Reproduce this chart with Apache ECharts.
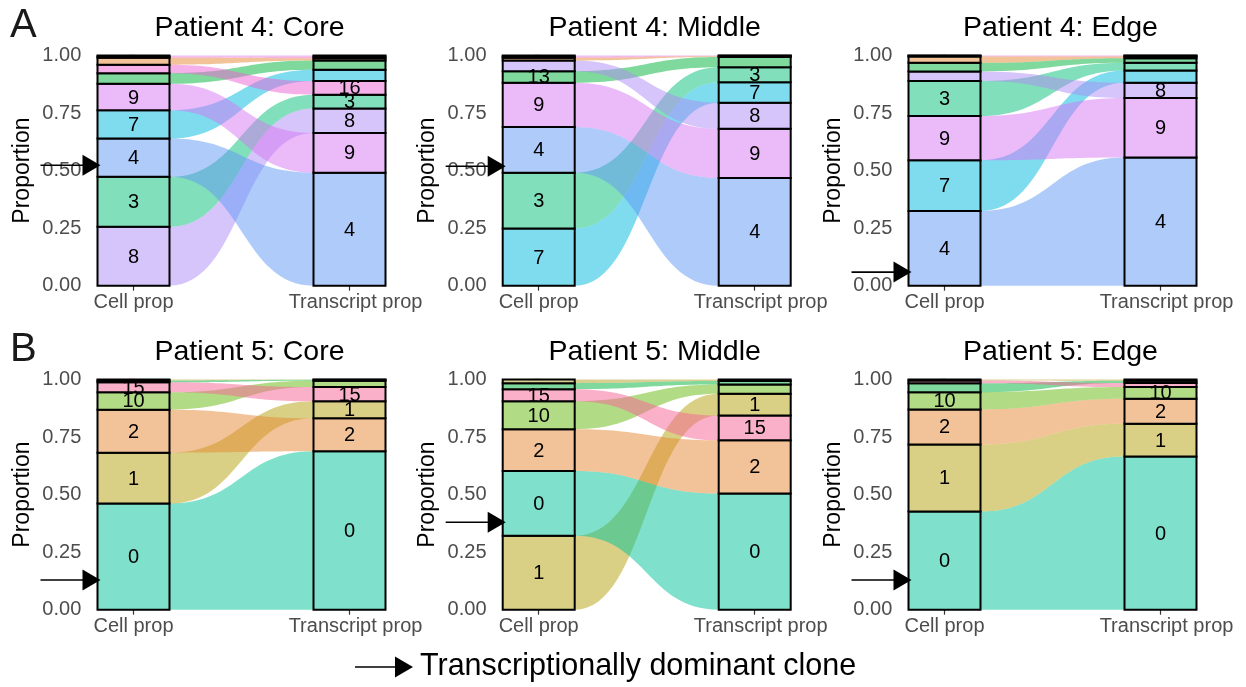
<!DOCTYPE html>
<html>
<head>
<meta charset="utf-8">
<script src="https://cdn.jsdelivr.net/npm/echarts@6/dist/echarts.min.js"></script>
<style>
  html, body { margin: 0; padding: 0; background: #fff; }
  #chart { width: 1246px; height: 687px; }
</style>
</head>
<body>
<div id="chart"></div>
<script>
// ---- Clone identities per patient ----
const clonesP4 = ['4', '3', '8', '7', '9', '13', '16', '2', '6', '11'];
const clonesP5 = ['0', '1', '2', '10', '15', '13', '5'];

// ---- Patient 4: cell and transcript proportions (same order as clonesP4) ----
const p4CoreCell   = [0.166, 0.217, 0.256, 0.123, 0.115, 0.046, 0.037, 0.030, 0.006, 0.004];
const p4CoreTx     = [0.491, 0.060, 0.107, 0.049, 0.172, 0.040, 0.059, 0.010, 0.008, 0.004];
const p4MiddleCell = [0.198, 0.242, 0.046, 0.249, 0.193, 0.050, 0.000, 0.012, 0.006, 0.004];
const p4MiddleTx   = [0.468, 0.065, 0.113, 0.089, 0.214, 0.044, 0.000, 0.004, 0.002, 0.001];
const p4EdgeCell   = [0.325, 0.152, 0.042, 0.220, 0.192, 0.037, 0.000, 0.028, 0.003, 0.001];
const p4EdgeTx     = [0.557, 0.033, 0.067, 0.053, 0.258, 0.020, 0.000, 0.008, 0.003, 0.001];

// ---- Patient 5: cell and transcript proportions (same order as clonesP5) ----
const p5CoreCell   = [0.461, 0.221, 0.187, 0.076, 0.043, 0.008, 0.004];
const p5CoreTx     = [0.688, 0.073, 0.144, 0.028, 0.062, 0.004, 0.001];
const p5MiddleCell = [0.282, 0.321, 0.181, 0.122, 0.052, 0.026, 0.016];
const p5MiddleTx   = [0.505, 0.094, 0.231, 0.040, 0.108, 0.015, 0.007];
const p5EdgeCell   = [0.427, 0.291, 0.152, 0.075, 0.012, 0.039, 0.004];
const p5EdgeTx     = [0.666, 0.142, 0.108, 0.051, 0.018, 0.010, 0.005];

// ---- Clones whose id is printed inside the stratum ----
const labelsP4CoreCell   = ['8', '3', '4', '7', '9'];
const labelsP4CoreTx     = ['4', '9', '8', '3', '16'];
const labelsP4MiddleCell = ['7', '3', '4', '9', '13'];
const labelsP4MiddleTx   = ['4', '9', '8', '7', '3'];
const labelsP4EdgeCell   = ['4', '7', '9', '3'];
const labelsP4EdgeTx     = ['4', '9', '8'];
const labelsP5CoreCell   = ['0', '1', '2', '10', '15'];
const labelsP5CoreTx     = ['0', '2', '1', '15'];
const labelsP5MiddleCell = ['1', '0', '2', '10', '15'];
const labelsP5MiddleTx   = ['0', '2', '15', '1'];
const labelsP5EdgeCell   = ['0', '1', '2', '10'];
const labelsP5EdgeTx     = ['0', '1', '2', '10'];

// ---- Height of the arrow marking the transcriptionally dominant clone ----
const dominantArrowY = [0.523, 0.519, 0.059, 0.129, 0.380, 0.129];

// ---- Titles and axis text ----
const panelTitles = ['Patient 4: Core', 'Patient 4: Middle', 'Patient 4: Edge',
                     'Patient 5: Core', 'Patient 5: Middle', 'Patient 5: Edge'];
const xCategories = ['Cell prop', 'Transcript prop'];

// Clone fill colours (as seen on white)
const cloneColors = {
  '0': '#7FE0CC', '1': '#D9D085', '2': '#F2C398', '3': '#82DFBB',
  '4': '#AFCBFA', '5': '#D8D092', '6': '#F8B2DC', '7': '#7FDBEE',
  '8': '#D6C5FA', '9': '#EABAF9', '10': '#B2DB86', '11': '#E6BEF6',
  '13': '#80D99C', '15': '#FBB0CA', '16': '#F5B0EA'
};

// Semi-transparent flow colour that gives the stratum colour over white
function flowColor(hex) {
  const r = parseInt(hex.slice(1, 3), 16), g = parseInt(hex.slice(3, 5), 16), b = parseInt(hex.slice(5, 7), 16);
  const f = v => Math.max(0, Math.min(255, 2 * v - 255));
  return 'rgba(' + f(r) + ',' + f(g) + ',' + f(b) + ',0.5)';
}

const panels = [
  { clones: clonesP4, cell: p4CoreCell,   tx: p4CoreTx,   lc: labelsP4CoreCell,   lt: labelsP4CoreTx },
  { clones: clonesP4, cell: p4MiddleCell, tx: p4MiddleTx, lc: labelsP4MiddleCell, lt: labelsP4MiddleTx },
  { clones: clonesP4, cell: p4EdgeCell,   tx: p4EdgeTx,   lc: labelsP4EdgeCell,   lt: labelsP4EdgeTx },
  { clones: clonesP5, cell: p5CoreCell,   tx: p5CoreTx,   lc: labelsP5CoreCell,   lt: labelsP5CoreTx },
  { clones: clonesP5, cell: p5MiddleCell, tx: p5MiddleTx, lc: labelsP5MiddleCell, lt: labelsP5MiddleTx },
  { clones: clonesP5, cell: p5EdgeCell,   tx: p5EdgeTx,   lc: labelsP5EdgeCell,   lt: labelsP5EdgeTx }
];

const FONT = '"Liberation Sans", Arial, Helvetica, sans-serif';
const HALF = 1 / 6;          // half width of a stratum, in axis units
const colLeft = [90.3, 495.5, 901.3];
const rowTop = [55.5, 379.5];
const gridW = 302.4, gridH = 230.2;

// Stack a column: largest clone at the bottom
function stackColumn(vals) {
  const idx = vals.map((v, i) => i).filter(i => vals[i] > 0).sort((a, b) => vals[b] - vals[a]);
  const lo = {}, hi = {};
  let acc = 0;
  idx.forEach(i => { lo[i] = acc; acc += vals[i]; hi[i] = acc; });
  return { order: idx, lo, hi };
}

function buildItems(p, k) {
  const L = stackColumn(p.cell), R = stackColumn(p.tx);
  const items = [];
  // flows, one per clone, from its cell stratum to its transcript stratum
  L.order.forEach(i => {
    if (p.tx[i] > 0) items.push({ kind: 'flow', c: p.clones[i], l0: L.lo[i], l1: L.hi[i], r0: R.lo[i], r1: R.hi[i] });
  });
  // strata
  L.order.forEach(i => items.push({ kind: 'rect', x: 0, c: p.clones[i], y0: L.lo[i], y1: L.hi[i] }));
  R.order.forEach(i => items.push({ kind: 'rect', x: 1, c: p.clones[i], y0: R.lo[i], y1: R.hi[i] }));
  // stratum labels
  L.order.forEach(i => { if (p.lc.indexOf(p.clones[i]) >= 0) items.push({ kind: 'label', x: 0, c: p.clones[i], y: (L.lo[i] + L.hi[i]) / 2 }); });
  R.order.forEach(i => { if (p.lt.indexOf(p.clones[i]) >= 0) items.push({ kind: 'label', x: 1, c: p.clones[i], y: (R.lo[i] + R.hi[i]) / 2 }); });
  // dominant-clone arrow
  items.push({ kind: 'arrow', y: dominantArrowY[k] });
  return items;
}

function makeRenderer(items) {
  return function (params, api) {
    const it = items[params.dataIndex];
    if (it.kind === 'flow') {
      const xl = api.coord([HALF, 0])[0], xr = api.coord([1 - HALF, 0])[0];
      const yl0 = api.coord([0, it.l0])[1], yl1 = api.coord([0, it.l1])[1];
      const yr0 = api.coord([0, it.r0])[1], yr1 = api.coord([0, it.r1])[1];
      const xm = (xl + xr) / 2;
      const d = 'M' + xl + ' ' + yl1 + ' C' + xm + ' ' + yl1 + ' ' + xm + ' ' + yr1 + ' ' + xr + ' ' + yr1 +
                ' L' + xr + ' ' + yr0 + ' C' + xm + ' ' + yr0 + ' ' + xm + ' ' + yl0 + ' ' + xl + ' ' + yl0 + ' Z';
      return { type: 'path', shape: { pathData: d }, style: { fill: flowColor(cloneColors[it.c]), stroke: null } };
    }
    if (it.kind === 'rect') {
      const p0 = api.coord([it.x - HALF, it.y1]);
      const p1 = api.coord([it.x + HALF, it.y0]);
      return {
        type: 'rect',
        shape: { x: p0[0], y: p0[1], width: p1[0] - p0[0], height: p1[1] - p0[1] },
        style: { fill: cloneColors[it.c], stroke: '#000', lineWidth: 2 }
      };
    }
    if (it.kind === 'label') {
      const p = api.coord([it.x, it.y]);
      return {
        type: 'text', x: p[0], y: p[1] + 1,
        style: { text: it.c, fill: '#000', fontSize: 20, fontFamily: FONT, align: 'center', verticalAlign: 'middle' }
      };
    }
    // arrow pointing at the cell-proportion stratum
    const tip = api.coord([-HALF, it.y]);
    const tx = tip[0] + 3, ty = tip[1];
    return {
      type: 'group',
      children: [
        { type: 'line', shape: { x1: tx - 60, y1: ty, x2: tx - 14, y2: ty }, style: { stroke: '#000', lineWidth: 1.6 } },
        { type: 'polygon', shape: { points: [[tx - 18, ty - 10.5], [tx, ty], [tx - 18, ty + 10.5]] }, style: { fill: '#000' } }
      ]
    };
  };
}

const grids = [], xAxes = [], yAxes = [], series = [], graphics = [];
panels.forEach((p, k) => {
  const r = Math.floor(k / 3), c = k % 3;
  grids.push({ left: colLeft[c], top: rowTop[r], width: gridW, height: gridH, containLabel: false });
  xAxes.push({
    gridIndex: k, type: 'value', min: -0.2, max: 1.2,
    axisLine: { show: false }, splitLine: { show: false },
    axisTick: { show: true, customValues: [0, 1], length: 5, lineStyle: { color: '#333', width: 1.2 } },
    axisLabel: {
      customValues: [0, 1],
      formatter: v => Math.round(v) === 0 ? '{c|' + xCategories[0] + '}' : '{t|' + xCategories[1] + '}',
      color: '#4D4D4D', margin: 7,
      rich: {
        c: { fontSize: 20, color: '#4D4D4D', fontFamily: FONT },
        t: { fontSize: 20, color: '#4D4D4D', fontFamily: FONT, padding: [0, 0, 0, 12] }
      }
    }
  });
  yAxes.push({
    gridIndex: k, type: 'value', min: 0, max: 1, interval: 0.25,
    axisLine: { show: true, lineStyle: { color: '#000', width: 1.6 } },
    axisTick: { show: true, length: 5, lineStyle: { color: '#333', width: 1.2 } },
    axisLabel: { formatter: v => v.toFixed(2), fontSize: 20, color: '#4D4D4D', fontFamily: FONT, margin: 9 },
    splitLine: { show: false },
    name: 'Proportion', nameLocation: 'middle', nameGap: 56,
    nameTextStyle: { fontSize: 23, color: '#000', fontFamily: FONT }
  });
  const items = buildItems(p, k);
  series.push({
    type: 'custom', coordinateSystem: 'cartesian2d', xAxisIndex: k, yAxisIndex: k,
    clip: false, silent: true,
    data: items.map(() => [0, 0]),
    renderItem: makeRenderer(items)
  });
  graphics.push({
    type: 'text', x: colLeft[c] + gridW / 2 + 8, y: r === 0 ? 28 : 352,
    style: { text: panelTitles[k], fontSize: 28.5, fontFamily: FONT, fill: '#000', align: 'center', verticalAlign: 'middle' }
  });
});

// Row letters
graphics.push({ type: 'text', x: 10, y: 26, style: { text: 'A', fontSize: 40, fontFamily: FONT, fill: '#1a1a1a', align: 'left', verticalAlign: 'middle' } });
graphics.push({ type: 'text', x: 10, y: 350, style: { text: 'B', fontSize: 40, fontFamily: FONT, fill: '#1a1a1a', align: 'left', verticalAlign: 'middle' } });

// Key for the arrow
graphics.push({ type: 'line', shape: { x1: 355, y1: 667, x2: 398, y2: 667 }, style: { stroke: '#000', lineWidth: 1.6 } });
graphics.push({ type: 'polygon', shape: { points: [[395, 656.5], [413, 667], [395, 677.5]] }, style: { fill: '#000' } });
graphics.push({ type: 'text', x: 420, y: 667, style: { text: 'Transcriptionally dominant clone', fontSize: 30.5, fontFamily: FONT, fill: '#000', align: 'left', verticalAlign: 'middle' } });

const chart = echarts.init(document.getElementById('chart'), null, { renderer: 'canvas' });
chart.setOption({
  animation: false,
  backgroundColor: '#fff',
  grid: grids, xAxis: xAxes, yAxis: yAxes, series: series,
  graphic: graphics
});
</script>
</body>
</html>
